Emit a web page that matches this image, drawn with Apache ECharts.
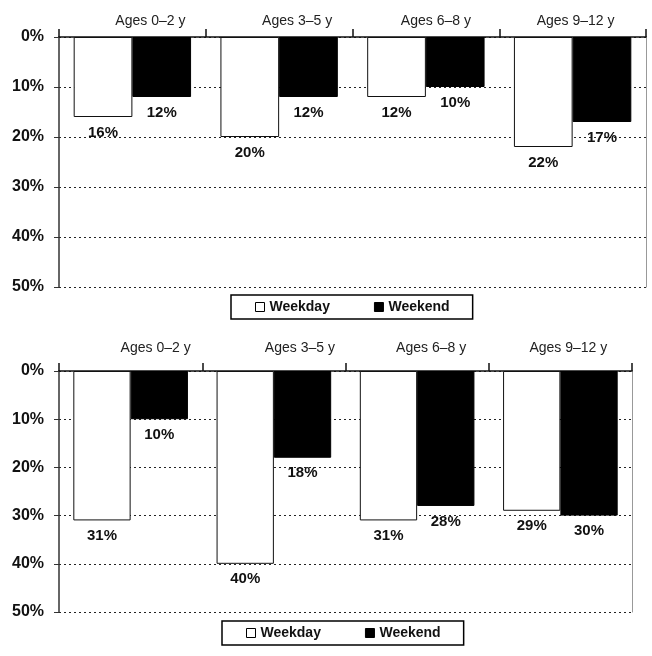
<!DOCTYPE html>
<html>
<head>
<meta charset="utf-8">
<script src="https://cdn.jsdelivr.net/npm/echarts@6/dist/echarts.min.js"></script>
<style>
html,body{margin:0;padding:0;background:#fff;}
#chart{width:652px;height:656px;}
</style>
</head>
<body>
<div id="chart"></div>
<script>
var categories = ['Ages 0\u20132 y', 'Ages 3\u20135 y', 'Ages 6\u20138 y', 'Ages 9\u201312 y'];
var seriesNames = ['Weekday', 'Weekend'];
var topWeekday = [16, 20, 12, 22];
var topWeekend = [12, 12, 10, 17];
var bottomWeekday = [31, 40, 31, 29];
var bottomWeekend = [10, 18, 28, 30];
var yMin = 0, yMax = 50, yInterval = 10;

var FONT = '"Liberation Sans", Arial, sans-serif';
var chart = echarts.init(document.getElementById('chart'), null, {renderer: 'canvas'});

// horizontal nudge (px) of each category heading, as placed in the original figure
function xAxis(gridIndex, margin, shifts) {
  var rich = {};
  shifts.forEach(function (s, i) {
    rich['p' + i] = {padding: [0, 0, 0, 2 * s], color: '#222', fontFamily: FONT, fontSize: 14};
  });
  return {
    type: 'category', gridIndex: gridIndex, data: categories, position: 'top',
    axisLine: {show: true, lineStyle: {color: '#111', width: 1.5}},
    axisTick: {show: true, alignWithLabel: false, length: 8, lineStyle: {color: '#111', width: 1.5}},
    axisLabel: {color: '#222', fontFamily: FONT, fontSize: 14, margin: margin, interval: 0,
      formatter: function (v, i) { return '{p' + i + '|' + v + '}'; }, rich: rich}
  };
}
function yAxisLeft(gridIndex) {
  return {
    type: 'value', gridIndex: gridIndex, min: yMin, max: yMax, interval: yInterval, inverse: true,
    axisLine: {show: true, lineStyle: {color: '#333', width: 1.5}},
    axisTick: {show: true, length: 5, lineStyle: {color: '#333', width: 1}},
    axisLabel: {formatter: '{value}%', color: '#111', fontFamily: FONT, fontSize: 16, fontWeight: 'bold', margin: 15},
    splitLine: {show: true, lineStyle: {color: '#222', width: 1.2, type: [2, 3]}}
  };
}
function yAxisRight(gridIndex) {
  return {
    type: 'value', gridIndex: gridIndex, min: yMin, max: yMax, interval: yInterval, inverse: true, position: 'right',
    axisLine: {show: true, lineStyle: {color: '#999', width: 1}},
    axisTick: {show: false}, axisLabel: {show: false}, splitLine: {show: false}
  };
}
function barLabel() {
  return {show: true, position: 'bottom', distance: 8, formatter: '{c}%', color: '#111',
    fontFamily: FONT, fontSize: 15, fontWeight: 'bold'};
}
function legend(left, top) {
  return {
    data: [
      {name: seriesNames[0], itemStyle: {color: '#fff', borderColor: '#000', borderWidth: 1}},
      {name: seriesNames[1], itemStyle: {color: '#000', borderColor: '#000', borderWidth: 1}}
    ],
    left: left, top: top, orient: 'horizontal', icon: 'rect', itemWidth: 9, itemHeight: 9, itemGap: 44,
    padding: [5, 23, 5, 24], borderColor: '#000', borderWidth: 1.5, backgroundColor: '#fff',
    textStyle: {color: '#111', fontFamily: FONT, fontSize: 14, fontWeight: 'bold'},
    selectedMode: false
  };
}
function bars(xi, yi, weekday, weekend) {
  return [
    {name: seriesNames[0], type: 'bar', xAxisIndex: xi, yAxisIndex: yi, data: weekday,
      barGap: '0%', barCategoryGap: '20%',
      itemStyle: {color: '#fff', borderColor: '#111', borderWidth: 1}, label: barLabel()},
    {name: seriesNames[1], type: 'bar', xAxisIndex: xi, yAxisIndex: yi, data: weekend,
      barGap: '0%', barCategoryGap: '20%',
      itemStyle: {color: '#000', borderColor: '#000', borderWidth: 1}, label: barLabel()}
  ];
}

var option = {
  animation: false,
  backgroundColor: '#fff',
  grid: [
    {left: 59, top: 37, width: 587, height: 250},
    {left: 59, top: 371, width: 573, height: 241}
  ],
  legend: [legend(231, 295), legend(222, 621)],
  xAxis: [xAxis(0, 9, [18, 18, 10, 3]), xAxis(1, 16, [25, 26, 14, 8])],
  yAxis: [yAxisLeft(0), yAxisRight(0), yAxisLeft(1), yAxisRight(1)],
  series: [].concat(bars(0, 0, topWeekday, topWeekend), bars(1, 2, bottomWeekday, bottomWeekend))
};
chart.setOption(option);
</script>
</body>
</html>
